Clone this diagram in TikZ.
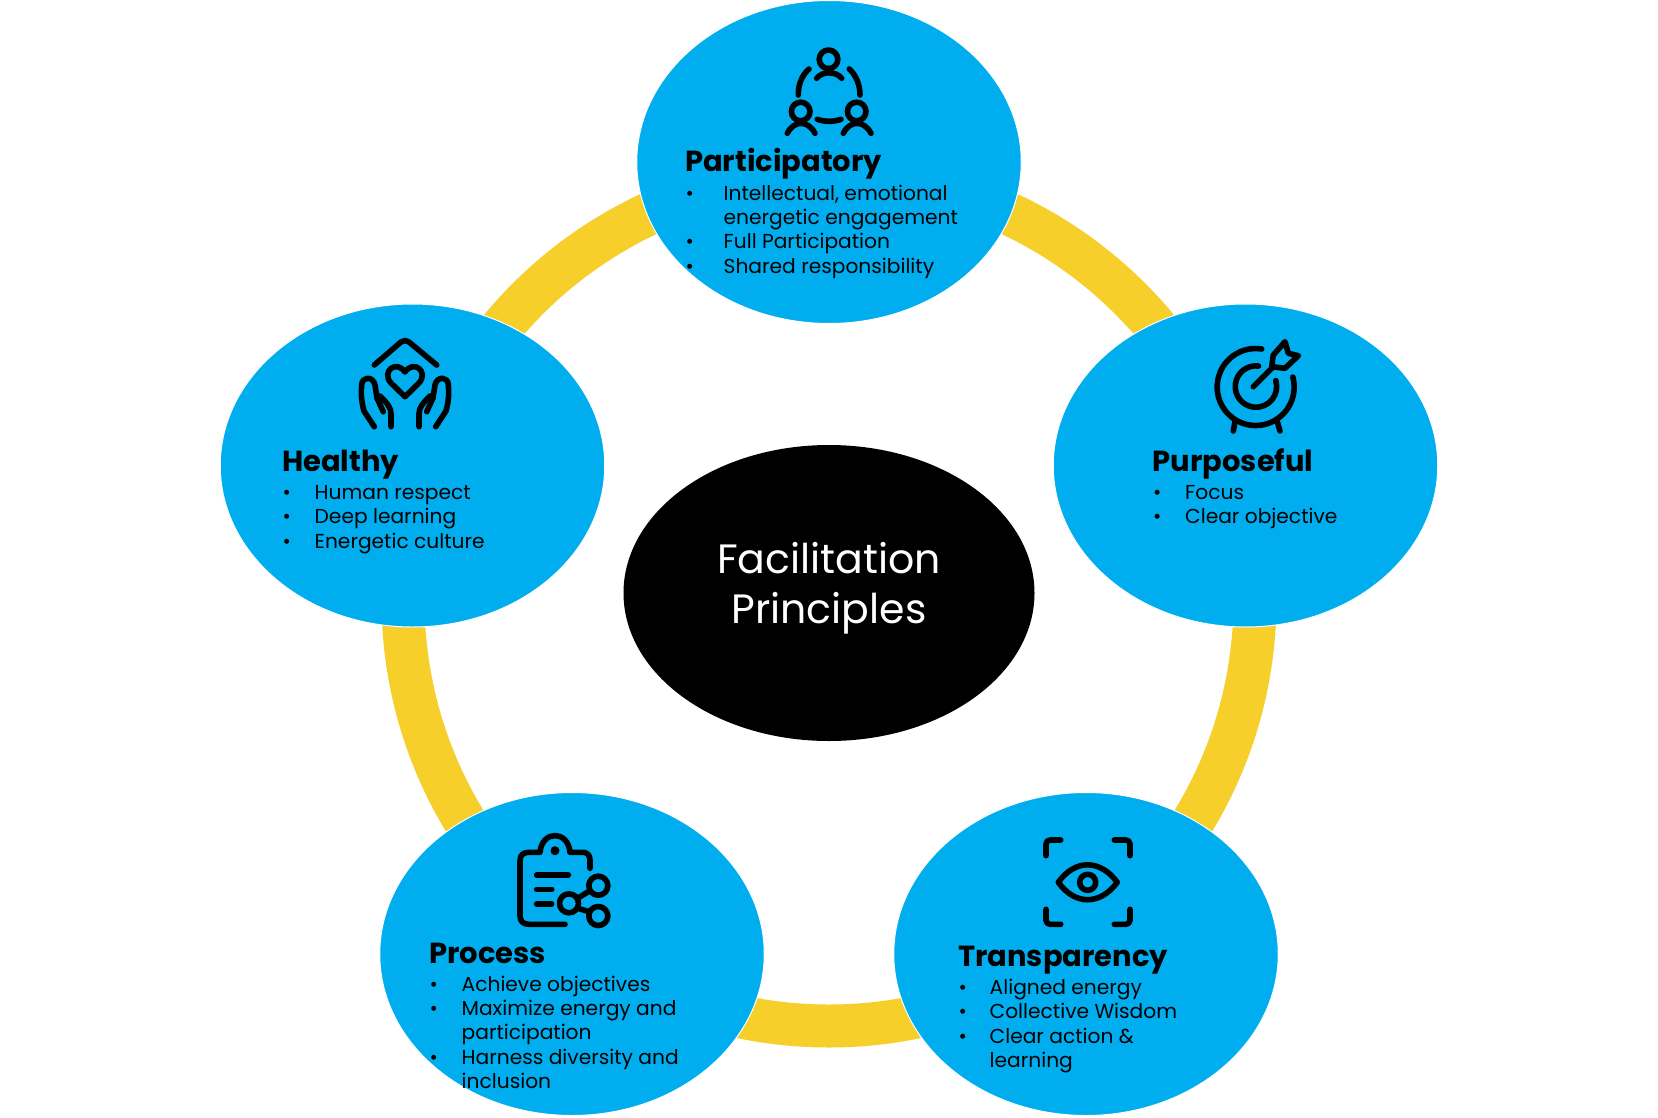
\documentclass[tikz,border=0pt]{standalone}
\usepackage{fontspec}
\setmainfont{Poppins}
\usepackage{xcolor}
\usetikzlibrary{shapes.geometric, positioning}

\definecolor{skyfill}{HTML}{00AEEF}
\definecolor{ringgold}{HTML}{F6CF2A}

% bullet list with hanging lines
\newcommand{\rowlist}[2]{\begin{tabular}{@{}p{#1}@{}l@{}}#2\end{tabular}}

\begin{document}
\begin{tikzpicture}[
    x=1pt, y=-1pt,
    petal/.style  = {ellipse, draw=white, line width=1pt, fill=skyfill, minimum width=384.5pt, minimum height=323pt, inner sep=0pt},
    hub/.style    = {ellipse, fill=black, minimum width=411pt, minimum height=296pt, inner sep=0pt},
    hubtext/.style= {text=white, align=center, inner sep=0pt, font=\fontsize{41}{49.5}\selectfont},
    title/.style  = {anchor=west, inner sep=0pt, font=\fontsize{29}{32}\selectfont\bfseries},
    body/.style   = {anchor=north west, inner sep=0pt, font=\fontsize{20.2}{24.3}\selectfont},
    icon/.style   = {draw=black, line width=5.6pt, line cap=round, line join=round},
]
\useasboundingbox (0,0) rectangle (1658,1117);
\fill[white] (0,0) rectangle (1658,1117);

\coordinate (ringc) at (829,600);
\draw[ringgold, line width=43pt] (ringc) circle[radius=426pt];

\node[hub] (hub) at (829,593) {};
\node[hubtext] (hubT) at (829,588) {Facilitation\\Principles};
\node[petal] (partic)  at (829,162) {};
\node[petal] (purpose) at (1245.5,465.5) {};
\node[petal] (transp)  at (1086,954) {};
\node[petal] (procs)   at (572,954) {};
\node[petal] (healthy) at (412.5,465.5) {};

% Participatory
\node[title] (particT) at (685,164) {Participatory};
\node[body, below right=3.5pt and 0.5pt of particT.south west, anchor=north west] (particB)
    {\rowlist{38pt}{\textbullet & Intellectual, emotional\\
                    & energetic engagement\\
                    \textbullet & Full Participation\\
                    \textbullet & Shared responsibility}};

% Purposeful
\node[title] (purposeT) at (1152.5,463.5) {Purposeful};
\node[body, below right=3pt and 0.5pt of purposeT.south west, anchor=north west] (purposeB)
    {\rowlist{32pt}{\textbullet & Focus\\
                    \textbullet & Clear objective}};

% Transparency
\node[title] (transpT) at (958,960) {Transparency};
\node[body, below right=3pt and 0.5pt of transpT.south west, anchor=north west] (transpB)
    {\rowlist{31pt}{\textbullet & Aligned energy\\
                    \textbullet & Collective Wisdom\\
                    \textbullet & Clear action \&\\
                    & learning}};

% Process
\node[title] (procsT) at (429,953) {Process};
\node[body, below right=10.5pt and 0.5pt of procsT.south west, anchor=north west] (procsB)
    {\rowlist{32pt}{\textbullet & Achieve objectives\\
                    \textbullet & Maximize energy and\\
                    & participation\\
                    \textbullet & Harness diversity and\\
                    & inclusion}};

% Healthy
\node[title] (healthyT) at (282,465) {Healthy};
\node[body, below right=2.5pt and 0.5pt of healthyT.south west, anchor=north west] (healthyB)
    {\rowlist{32pt}{\textbullet & Human respect\\
                    \textbullet & Deep learning\\
                    \textbullet & Energetic culture}};

% icon: three people
\draw[icon] (828.5,59.3) circle[radius=9.3pt];
\draw[icon] (800.7,111.5) circle[radius=9.3pt];
\draw[icon] (856.7,111.5) circle[radius=9.3pt];
\draw[icon] (816.7,78.3) .. controls (822,71) and (836,71) .. (841.7,78.3);
\draw[icon] (787.3,133.3) .. controls (794,120) and (808,120) .. (815,133.3);
\draw[icon] (843.3,133.3) .. controls (850,120) and (864,120) .. (871,133.3);
\draw[icon] (809,69) .. controls (802,75) and (798,85) .. (798.3,95);
\draw[icon] (849.3,69) .. controls (856,75) and (860,85) .. (860,95);
\draw[icon] (817.3,119.3) .. controls (825,122) and (833,122) .. (841,119.3);

% icon: hands and heart
\draw[icon] (374.3,365) -- (401,342) .. controls (403.5,340) and (406.5,340) .. (409,342) -- (436.7,365);
\draw[icon] (405,396.7) -- (391,383) .. controls (381,372) and (396,359) .. (405,372)
    .. controls (414,359) and (429,372) .. (419,383) -- cycle;
\foreach \m/\o in {1/0, -1/810} {
  \draw[icon] (\o+\m*374.3,426.7) -- (\o+\m*364,411) .. controls (\o+\m*361,400) and (\o+\m*361,392) .. (\o+\m*361.7,385)
      .. controls (\o+\m*362,376) and (\o+\m*373,376) .. (\o+\m*375,385)
      -- (\o+\m*377,398) -- (\o+\m*383.3,411.7);
  \draw[icon] (\o+\m*380,396) .. controls (\o+\m*388,404) and (\o+\m*391,408) .. (\o+\m*391,414) -- (\o+\m*391,426.7);
}

% icon: target and arrow
\draw[icon] (1261.7,349) arc[start angle=81, end angle=375, radius=38.5pt];
\draw[icon] (1258.5,366) arc[start angle=83, end angle=377, radius=20.7pt];
\draw[icon] (1253.3,386.7) -- (1271.7,368.3);
\draw[icon] (1271.7,366.7) -- (1273.3,355) -- (1285,341.7) -- (1288.3,353.3) -- (1298.3,355.7) -- (1285,368.3) -- cycle;
\draw[icon] (1235,421.7) -- (1233.3,431);
\draw[icon] (1277.3,421.7) -- (1280,431);

% icon: clipboard
\draw[icon] (590,868.3) -- (590,860) .. controls (590,855) and (587,852.3) .. (583,852.3) -- (570,852.3)
    .. controls (568,830) and (542,830) .. (540,852.3) -- (529,852.3)
    .. controls (523,852.3) and (520,855) .. (520,861) -- (520,916)
    .. controls (520,921) and (523,924.3) .. (529,924.3) -- (565,924.3);
\fill (555,850.7) circle[radius=4.5pt];
\draw[icon] (536.7,875) -- (568.3,875);
\draw[icon] (536.7,889.3) -- (551.7,889.3);
\draw[icon] (536.7,904) -- (551.7,904);
\draw[icon] (569,903.3) circle[radius=9.5pt];
\draw[icon] (598.3,885.7) circle[radius=9.5pt];
\draw[icon] (598.3,916) circle[radius=9.5pt];
\draw[icon, line cap=butt] (578,898) -- (590,890.7);
\draw[icon, line cap=butt] (578,908.3) -- (590,912);

% icon: eye in frame
\draw[icon, rounded corners=4pt] (1046,855.7) -- (1046,840) -- (1060.7,840);
\draw[icon, rounded corners=4pt] (1114.3,840) -- (1130,840) -- (1130,855.7);
\draw[icon, rounded corners=4pt] (1046,909.3) -- (1046,924.3) -- (1060.7,924.3);
\draw[icon, rounded corners=4pt] (1114.3,924.3) -- (1130,924.3) -- (1130,909.3);
\draw[icon] (1058.3,882.3) .. controls (1075,859) and (1100,859) .. (1117.3,882.3)
    .. controls (1100,905.5) and (1075,905.5) .. (1058.3,882.3) -- cycle;
\draw[icon] (1087.7,882.3) circle[radius=8pt];

\end{tikzpicture}
\end{document}
